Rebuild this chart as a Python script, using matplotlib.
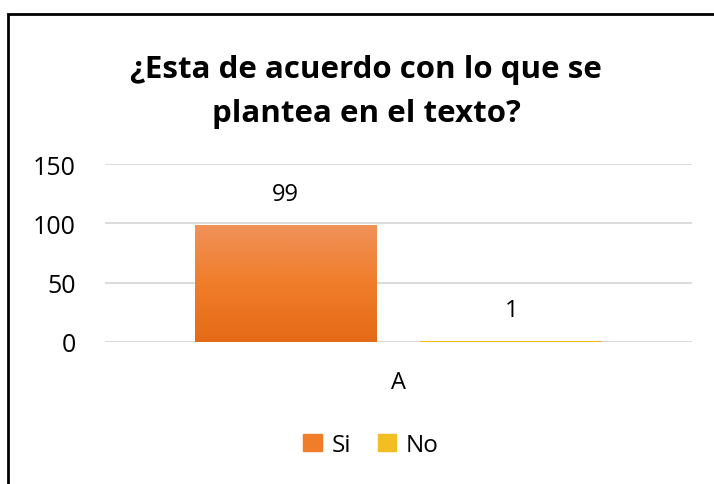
import numpy as np
import matplotlib
matplotlib.use("Agg")
import matplotlib.pyplot as plt
from matplotlib.colors import LinearSegmentedColormap
from matplotlib.patches import Rectangle

categories = ["A"]
series_names = ["Si", "No"]
values_si = [99]
values_no = [1]
yticks = [0, 50, 100, 150]
title = "¿Esta de acuerdo con lo que se\nplantea en el texto?"

plt.rcParams['font.family'] = ['Open Sans', 'DejaVu Sans']

fig = plt.figure(figsize=(7.14, 4.85), dpi=100)
ax = fig.add_axes([105/714, 1 - 343/485, 587/714, (343 - 165)/485])

x = np.arange(len(categories))
w = 0.31
off = 0.192
top_cols = ["#F0925A", "#F5C842"]
bot_cols = ["#E56A17", "#F0B400"]
face = ["#F07D2A", "#F2BE22"]

for i, (name, vals) in enumerate(zip(series_names, [values_si, values_no])):
    pos = x + (-off if i == 0 else off)
    bars = ax.bar(pos, vals, width=w, color=face[i], label=name, zorder=3)
    cmap = LinearSegmentedColormap.from_list("g%d" % i, [bot_cols[i], face[i], top_cols[i]])
    for b, v in zip(bars, vals):
        x0, y0 = b.get_x(), b.get_y()
        im = ax.imshow(np.linspace(0, 1, 100).reshape(-1, 1), cmap=cmap, aspect="auto",
                       origin="lower", extent=[x0, x0 + b.get_width(), y0, y0 + b.get_height()],
                       zorder=3)
        im.set_clip_path(b)
        ax.annotate(str(v), (b.get_x() + b.get_width() / 2, v), xytext=(0, 22),
                    textcoords="offset points", ha="center", va="center",
                    fontsize=17, color="#000000", zorder=4)

ax.set_xlim(-0.5, 0.5)
ax.set_ylim(0, 150)
ax.set_yticks(yticks)
ax.set_yticklabels([str(t) for t in yticks], fontsize=18)
ax.set_xticks(x)
ax.set_xticklabels(categories, fontsize=17)
ax.tick_params(length=0)
ax.tick_params(axis="x", pad=20)
ax.tick_params(axis="y", pad=21)
ax.grid(axis="y", color="#D9D9D9", linewidth=1.3, zorder=0)
for s in ax.spines.values():
    s.set_visible(False)
ax.axhline(0, color="#D9D9D9", linewidth=1.3, zorder=2)

fig.text(366/714, 1 - 92/485, title, ha="center", va="center", fontsize=22.5,
         fontweight="bold", linespacing=1.6)

handles = [Rectangle((0, 0), 1, 1, color=face[0]), Rectangle((0, 0), 1, 1, color=face[1])]
fig.legend(handles, series_names, loc="center", bbox_to_anchor=(371/714, 1 - 446/485),
           ncol=2, frameon=False, fontsize=17.5, handlelength=0.75, handleheight=0.75,
           handletextpad=0.4, columnspacing=1.1, borderpad=0)

fig.patches.append(Rectangle((8/714, -0.1), 1.0, 1 - 15/485 + 0.1, transform=fig.transFigure,
                             fill=False, edgecolor="#000000", linewidth=2))

fig.savefig("out.png", dpi=100)
